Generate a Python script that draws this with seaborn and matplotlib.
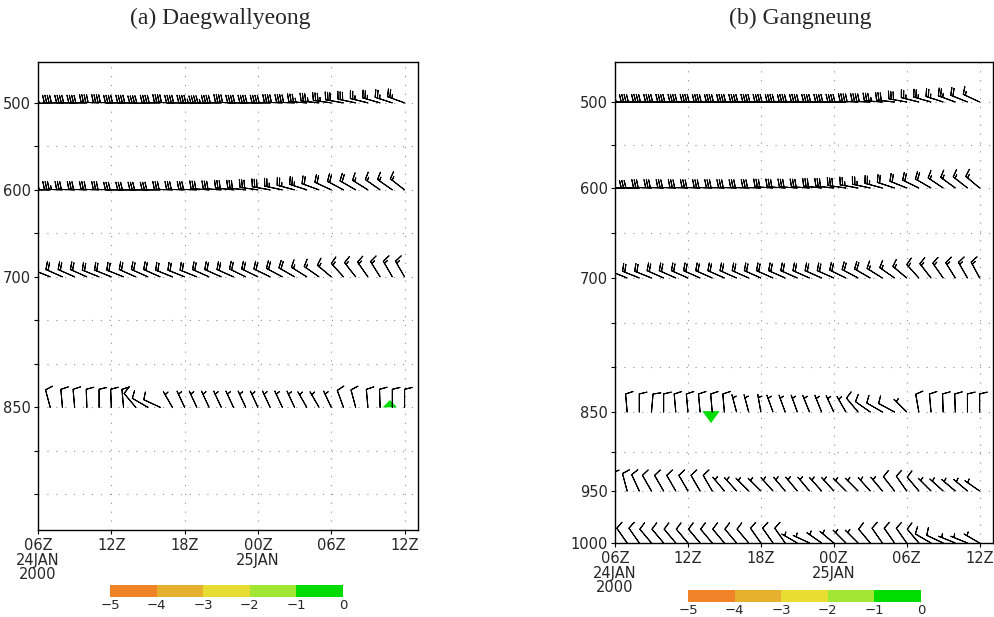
import numpy as np
import matplotlib
matplotlib.use("Agg")
import matplotlib.pyplot as plt
from matplotlib.colors import ListedColormap, BoundaryNorm
from matplotlib.cm import ScalarMappable
import seaborn as sns

# ---------------- data ----------------
HOURS = list(range(31))  # hours since 06Z 24 JAN 2000
XTICK_HOURS = [0, 6, 12, 18, 24, 30]
XTICK_LABELS = ["06Z\n24JAN\n2000", "12Z", "18Z", "00Z\n25JAN", "06Z", "12Z"]

A_LEVELS = [500, 600, 700, 850]
A500_DIR = [268,268,270,270,270,272,272,270,270,268,270,272,270,270,268,270,272,270,270,270,272,272,274,276,278,280,282,284,286,288,290]
A500_SPD = [35,40,40,40,40,40,40,40,40,40,40,40,40,45,45,40,40,40,40,40,40,40,35,35,35,30,30,25,25,25,25]
A600_DIR = [270,270,272,272,272,272,272,270,270,270,270,272,272,272,274,274,276,276,278,280,282,285,288,290,295,298,300,302,305,305,308]
A600_SPD = [35,35,35,30,30,30,30,30,30,30,30,30,30,30,30,30,30,30,30,30,25,25,25,20,20,20,20,15,15,15,15]
A700_DIR = [292,292,294,294,294,292,292,292,294,294,294,292,292,292,294,294,294,296,296,296,298,300,302,305,310,318,322,325,328,330,330]
A700_SPD = [20,20,20,20,20,20,20,20,20,20,20,20,20,20,20,20,20,20,20,20,20,20,15,15,15,15,15,15,15,15,15]
A850_DIR = [340,345,355,355,358,0,358,355,320,300,295,330,335,335,335,335,335,335,335,335,335,335,330,330,335,340,345,355,358,0,0]
A850_SPD = [10,10,10,10,10,10,10,10,10,10,10,5,5,5,5,5,5,5,5,5,5,5,5,5,5,10,10,10,10,10,10]

B_LEVELS = [500, 600, 700, 850, 950, 1000]
B500_DIR = [268,270,270,270,270,270,270,270,270,270,270,270,270,270,270,270,270,270,270,270,272,272,274,276,280,284,286,288,290,292,295]
B500_SPD = [35,40,40,40,40,40,40,40,40,40,40,40,40,40,40,40,40,40,40,40,40,40,35,30,30,25,25,25,25,20,15]
B600_DIR = [270,270,270,272,272,272,272,272,272,272,272,272,272,274,274,274,274,276,276,278,280,282,285,288,292,296,300,304,306,308,310]
B600_SPD = [30,30,30,30,30,30,30,30,30,30,30,30,30,30,30,30,30,30,30,30,25,25,25,20,20,20,20,15,15,15,15]
B700_DIR = [290,292,292,292,294,294,294,294,294,294,294,294,294,294,294,294,294,294,294,296,298,300,302,305,310,318,322,325,328,330,332]
B700_SPD = [20,20,20,20,20,20,20,20,20,20,20,20,20,20,20,20,20,20,20,20,20,20,15,15,15,15,15,15,15,15,15]
B850_DIR = [340,355,0,5,0,355,355,355,355,355,345,345,350,340,340,340,338,338,335,330,320,305,300,298,315,350,355,358,358,0,0]
B850_SPD = [5,10,10,10,10,10,10,10,10,10,5,5,5,5,5,5,5,5,5,5,10,10,10,10,5,10,10,10,10,10,10]
B950_DIR = [350,345,335,330,330,330,330,330,330,320,318,315,315,318,320,320,320,318,318,315,315,318,320,322,325,320,315,312,310,310,305]
B950_SPD = [10,10,10,10,10,10,10,10,10,5,5,5,5,5,5,5,5,5,5,5,5,5,5,10,10,10,5,5,5,5,5]
B1000_DIR = [340,325,325,320,320,320,320,320,320,320,320,320,325,325,325,300,295,305,310,315,315,320,325,325,325,320,300,295,292,292,300]
B1000_SPD = [10,10,10,10,10,10,10,10,10,10,10,10,10,10,10,5,5,5,5,5,5,10,10,10,10,10,10,10,5,5,5]

# small shaded (-1..0) spots
A_SPOT_HOUR, A_SPOT_P = [28.8], [850]
B_SPOT_HOUR, B_SPOT_P = [7.9], [850]

CB_BOUNDS = [-5, -4, -3, -2, -1, 0]
CB_COLORS = ["#F08228", "#E6AF2D", "#E6DC32", "#A0E632", "#00DC00"]

A_DIRS = [A500_DIR, A600_DIR, A700_DIR, A850_DIR]
A_SPDS = [A500_SPD, A600_SPD, A700_SPD, A850_SPD]
B_DIRS = [B500_DIR, B600_DIR, B700_DIR, B850_DIR, B950_DIR, B1000_DIR]
B_SPDS = [B500_SPD, B600_SPD, B700_SPD, B850_SPD, B950_SPD, B1000_SPD]

# vertical axis layout of panel (b) (pressure -> relative vertical position)
B_SCALE_P = [453, 500, 600, 700, 850, 950, 1000]
B_SCALE_Y = [62, 102, 188, 278, 412, 491, 543]

# ---------------- style ----------------
sns.set_theme(style="white")
plt.rcParams["font.family"] = ["DejaVu Sans"]
plt.rcParams["axes.edgecolor"] = "black"
plt.rcParams["axes.linewidth"] = 1.0

fig = plt.figure(figsize=(9.95, 6.17), dpi=100)
W, H = 995.0, 617.0
axA = fig.add_axes([38 / W, 1 - 530 / H, 380 / W, 468 / H])
axB = fig.add_axes([615 / W, 1 - 543 / H, 378 / W, 481 / H])

axB.set_yscale("function", functions=(
    lambda p: np.interp(p, B_SCALE_P, B_SCALE_Y),
    lambda y: np.interp(y, B_SCALE_Y, B_SCALE_P)))


def draw_panel(ax, levels, dirs, spds, ylim, ylabels_major, yminor):
    t = np.array(HOURS, dtype=float)
    for p, d, s in zip(levels, dirs, spds):
        d = np.deg2rad(np.array(d, dtype=float))
        s = np.array(s, dtype=float)
        u = -s * np.sin(d)
        v = -s * np.cos(d)
        ax.barbs(t, np.full_like(t, p), u, v, length=5.1, linewidth=0.75,
                 color="black", sizes=dict(emptybar=0.05, spacing=0.13, height=0.42, width=0.2),
                 clip_on=True, zorder=3)
    ax.set_xlim(0, 31.1)
    ax.set_ylim(*ylim)
    ax.set_xticks(XTICK_HOURS)
    ax.set_xticklabels(XTICK_LABELS, fontsize=10.5, linespacing=0.95)
    ax.set_yticks(ylabels_major)
    ax.set_yticklabels([str(v) for v in ylabels_major], fontsize=10.5)
    ax.set_yticks(yminor, minor=True)
    ax.yaxis.set_minor_formatter(plt.NullFormatter())
    ax.tick_params(axis="both", which="both", direction="out", length=3, width=0.8,
                   color="black", pad=2, bottom=True, left=True)
    ax.tick_params(axis="x", pad=3)
    for yv in list(ylabels_major) + list(yminor):
        ax.axhline(yv, color="#909090", lw=0.8, ls=(0, (1, 7)), zorder=1)
    for xv in XTICK_HOURS[1:]:
        ax.axvline(xv, color="#909090", lw=0.8, ls=(0, (1, 7)), zorder=1)
    for sp in ax.spines.values():
        sp.set_color("black")
        sp.set_linewidth(1.0)


draw_panel(axA, A_LEVELS, A_DIRS, A_SPDS, (991, 453), [500, 600, 700, 850],
           [550, 650, 750, 800, 900, 950])
draw_panel(axB, B_LEVELS, B_DIRS, B_SPDS, (1000, 453), [500, 600, 700, 850, 950, 1000],
           [550, 650, 750, 800, 900])

# shaded spots
tri_up = [(-1.0, 0.0), (1.0, 0.0), (0.0, 1.0), (-1.0, 0.0)]
tri_dn = [(-1.0, 0.1), (1.0, 0.1), (0.0, -1.3), (-1.0, 0.1)]
sns.scatterplot(x=A_SPOT_HOUR, y=A_SPOT_P, ax=axA, marker=tri_up, s=110,
                color="#00DC00", edgecolor="none", zorder=2, legend=False)
sns.scatterplot(x=B_SPOT_HOUR, y=B_SPOT_P, ax=axB, marker=tri_dn, s=260,
                color="#00DC00", edgecolor="none", zorder=2, legend=False)
for ax in (axA, axB):
    ax.set_xlabel("")
    ax.set_ylabel("")

# colorbars
cmap = ListedColormap(CB_COLORS)
norm = BoundaryNorm(CB_BOUNDS, cmap.N)
for rect in ([110 / W, 1 - 597 / H, 233 / W, 12 / H], [688 / W, 1 - 602 / H, 233 / W, 12 / H]):
    cax = fig.add_axes(rect)
    cb = fig.colorbar(ScalarMappable(norm=norm, cmap=cmap), cax=cax, orientation="horizontal",
                      ticks=CB_BOUNDS)
    cb.outline.set_visible(False)
    cb.ax.tick_params(length=0, labelsize=9.5, pad=1.5)
    cb.ax.set_xticklabels([("\u2212" + str(abs(b))) if b < 0 else str(b) for b in CB_BOUNDS])

# titles
fig.text(220 / W, 1 - 18 / H, "(a) Daegwallyeong", ha="center", va="center",
         family=["Liberation Serif", "DejaVu Serif"], fontsize=17)
fig.text(800 / W, 1 - 18 / H, "(b) Gangneung", ha="center", va="center",
         family=["Liberation Serif", "DejaVu Serif"], fontsize=17)

fig.savefig("out.png", dpi=100, facecolor="white")
